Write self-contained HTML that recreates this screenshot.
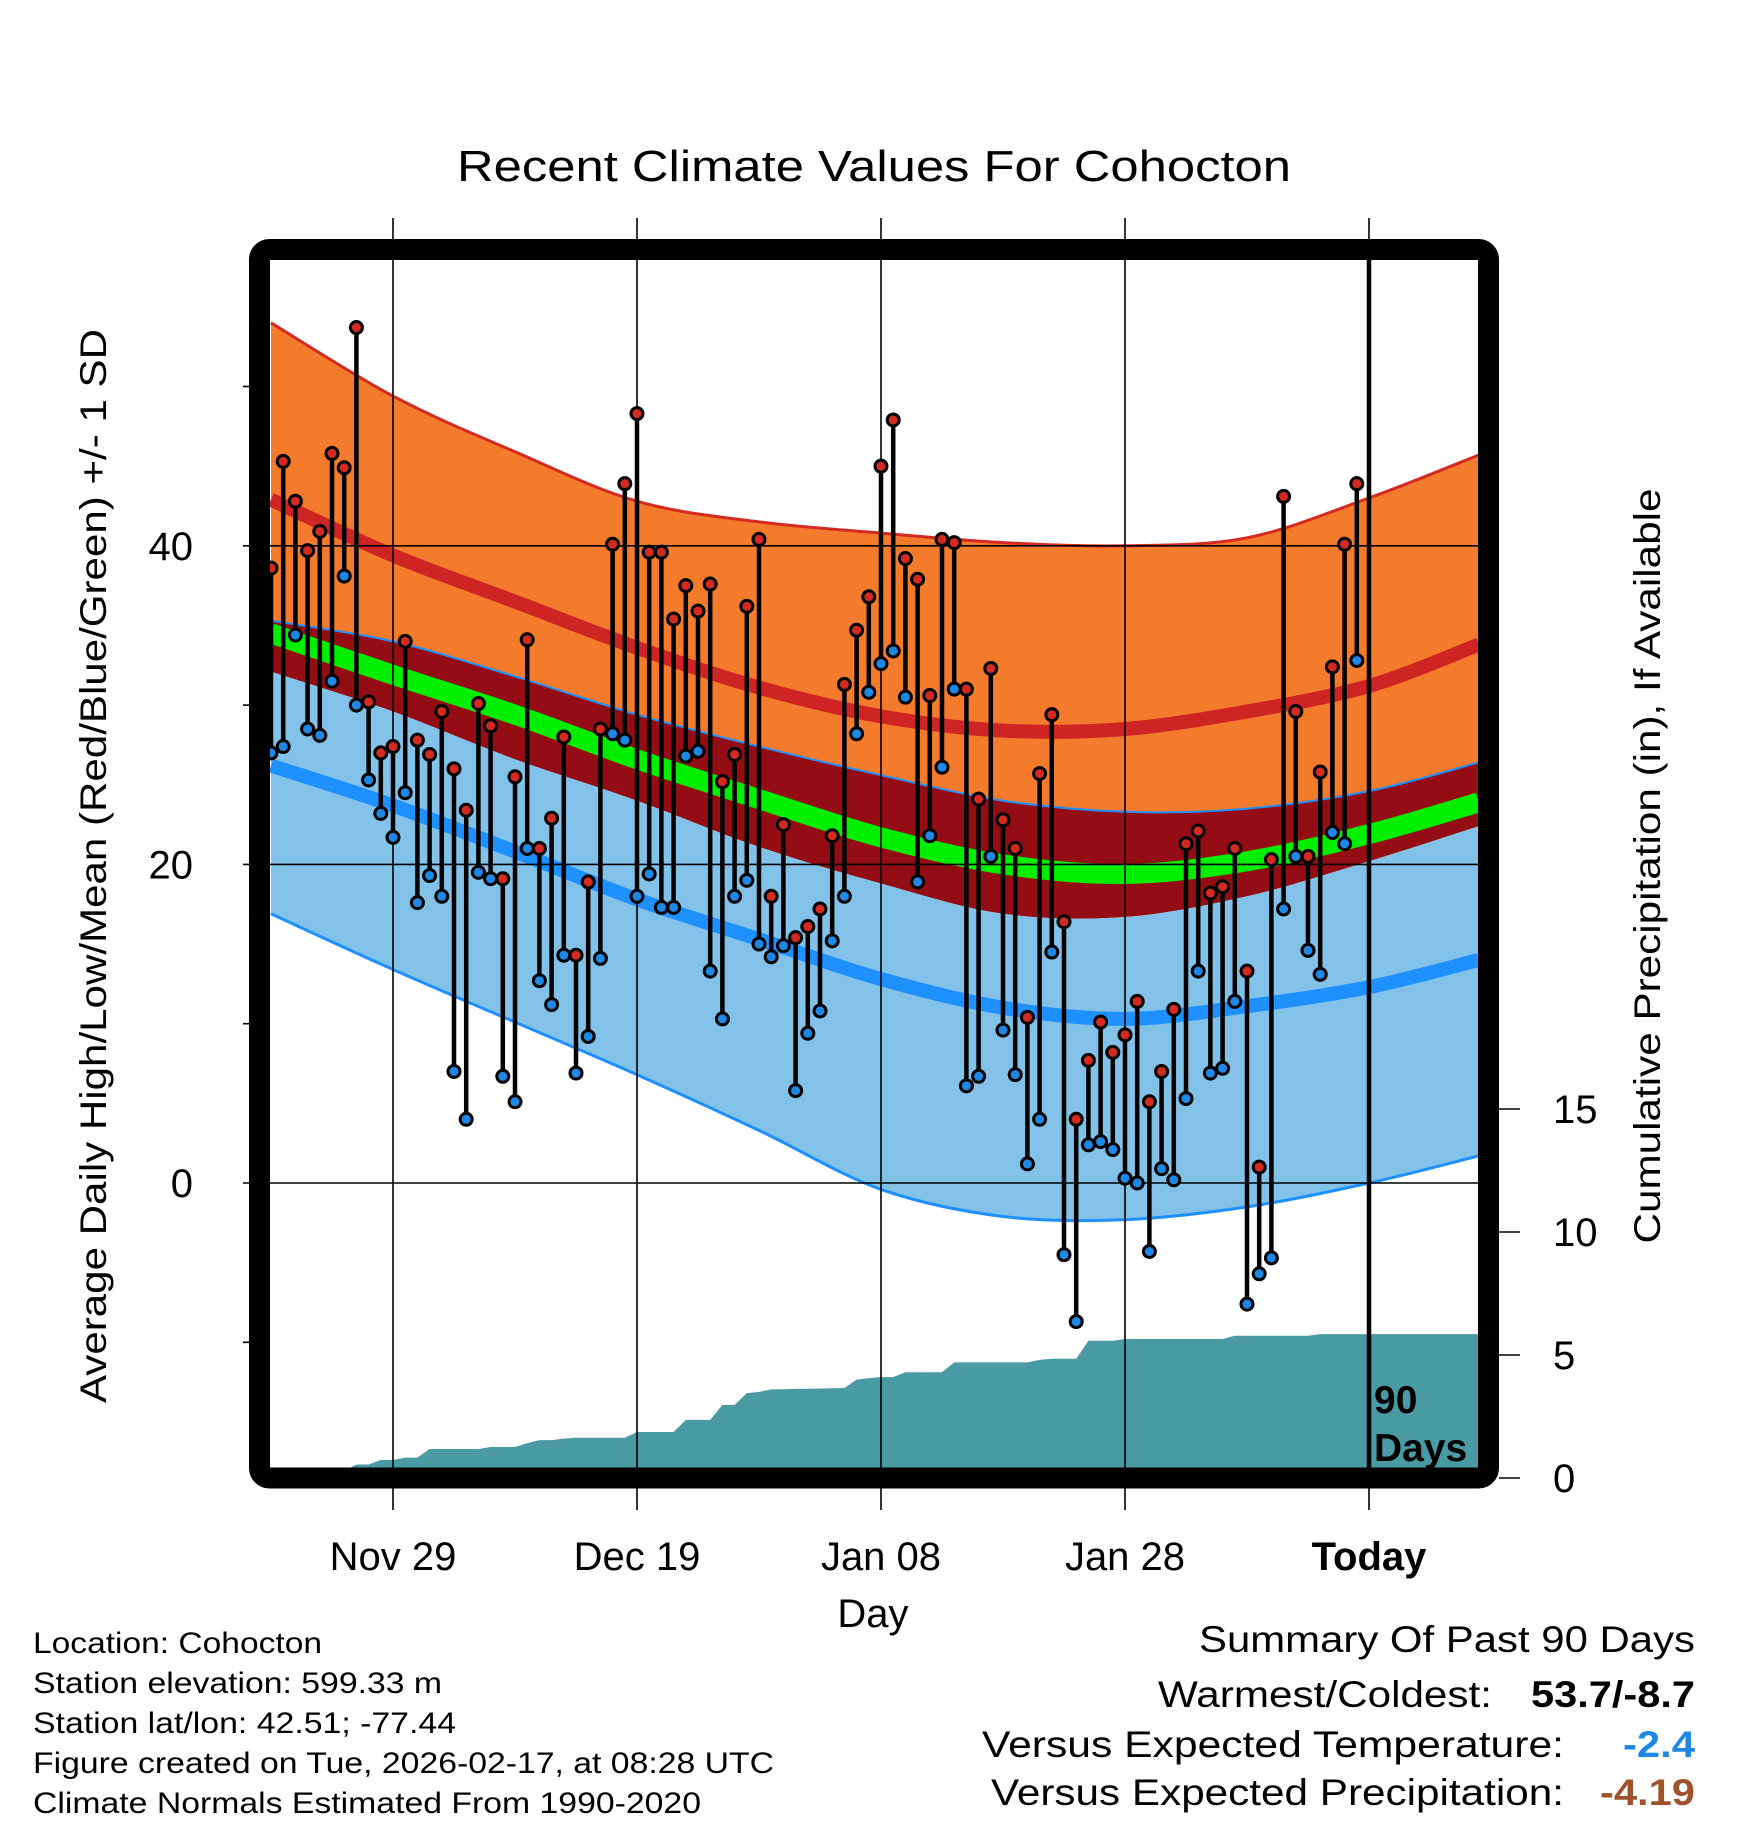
<!DOCTYPE html>
<html><head><meta charset="utf-8"><title>Recent Climate Values For Cohocton</title>
<style>html,body{margin:0;padding:0;background:#fff}svg{display:block}text{font-family:"Liberation Sans",Arial,sans-serif}</style>
</head><body>
<svg id="chart" width="1748" height="1828" viewBox="0 0 1748 1828" xmlns="http://www.w3.org/2000/svg">
<defs><clipPath id="plotclip"><rect x="270" y="260" width="1208" height="1208"/></clipPath></defs>
<rect width="1748" height="1828" fill="#fff"/>
<text x="874" y="181" font-size="44" text-anchor="middle" textLength="834" lengthAdjust="spacingAndGlyphs">Recent Climate Values For Cohocton</text>
<g id="bands" clip-path="url(#plotclip)"></g>
<g id="grid"></g>
<g id="marks" clip-path="url(#plotclip)"></g>
<g id="axes"></g>
<text transform="translate(106,866) rotate(-90)" font-size="37" text-anchor="middle" textLength="1074" lengthAdjust="spacingAndGlyphs">Average Daily High/Low/Mean (Red/Blue/Green) +/- 1 SD</text>
<text transform="translate(1660,866) rotate(-90)" font-size="37" text-anchor="middle" textLength="755" lengthAdjust="spacingAndGlyphs">Cumulative Precipitation (in), If Available</text>
<text x="873" y="1627" font-size="40" text-anchor="middle">Day</text>
<g font-size="30">
<text x="33" y="1653" textLength="289" lengthAdjust="spacingAndGlyphs">Location: Cohocton</text>
<text x="33" y="1693" textLength="409" lengthAdjust="spacingAndGlyphs">Station elevation: 599.33 m</text>
<text x="33" y="1733" textLength="423" lengthAdjust="spacingAndGlyphs">Station lat/lon: 42.51; -77.44</text>
<text x="33" y="1773" textLength="741" lengthAdjust="spacingAndGlyphs">Figure created on Tue, 2026-02-17, at 08:28 UTC</text>
<text x="33" y="1813" textLength="668" lengthAdjust="spacingAndGlyphs">Climate Normals Estimated From 1990-2020</text>
</g>
<g font-size="37">
<text x="1199" y="1652" textLength="496" lengthAdjust="spacingAndGlyphs">Summary Of Past 90 Days</text>
<text x="1158" y="1707" textLength="334" lengthAdjust="spacingAndGlyphs">Warmest/Coldest:</text>
<text x="1531" y="1707" font-weight="bold" textLength="164" lengthAdjust="spacingAndGlyphs">53.7/-8.7</text>
<text x="982" y="1757" textLength="582" lengthAdjust="spacingAndGlyphs">Versus Expected Temperature:</text>
<text x="1623" y="1757" font-weight="bold" fill="#1e88e5" textLength="72" lengthAdjust="spacingAndGlyphs">-2.4</text>
<text x="991" y="1805" textLength="573" lengthAdjust="spacingAndGlyphs">Versus Expected Precipitation:</text>
<text x="1600" y="1805" font-weight="bold" fill="#a0522d" textLength="95" lengthAdjust="spacingAndGlyphs">-4.19</text>
</g>
</svg>
<script>
// ---- data ----
const highs = [38.6,45.3,42.8,39.7,40.9,45.8,44.9,53.7,30.2,27.0,27.4,34.0,27.8,26.9,29.6,26.0,23.4,30.1,28.7,19.1,25.5,34.1,21.0,22.9,28.0,14.3,18.9,28.5,40.1,43.9,48.3,39.6,39.6,35.4,37.5,35.9,37.6,25.2,26.9,36.2,40.4,18.0,22.5,15.4,16.1,17.2,21.8,31.3,34.7,36.8,45.0,47.9,39.2,37.9,30.6,40.4,40.2,31.0,24.1,32.3,22.8,21.0,10.4,25.7,29.4,16.4,4.0,7.7,10.1,8.2,9.3,11.4,5.1,7.0,10.9,21.3,22.1,18.2,18.6,21.0,13.3,1.0,20.3,43.1,29.6,20.5,25.8,32.4,40.1,43.9];
const lows = [27.0,27.4,34.4,28.5,28.1,31.5,38.1,30.0,25.3,23.2,21.7,24.5,17.6,19.3,18.0,7.0,4.0,19.5,19.1,6.7,5.1,21.0,12.7,11.2,14.3,6.9,9.2,14.1,28.2,27.8,18.0,19.4,17.3,17.3,26.8,27.1,13.3,10.3,18.0,19.0,15.0,14.2,14.9,5.8,9.4,10.8,15.2,18.0,28.2,30.8,32.6,33.4,30.5,18.9,21.8,26.1,31.0,6.1,6.7,20.5,9.6,6.8,1.2,4.0,14.5,-4.5,-8.7,2.4,2.6,2.1,0.3,0.0,-4.3,0.9,0.2,5.3,13.3,6.9,7.2,11.4,-7.6,-5.7,-4.7,17.2,20.5,14.6,13.1,22.0,21.3,32.8];
const precipCum = [0,0,0,0,0,0,0.3,0.55,0.55,0.73,0.73,0.83,0.83,1.18,1.18,1.18,1.18,1.18,1.26,1.26,1.26,1.42,1.54,1.54,1.6,1.64,1.64,1.64,1.64,1.64,1.87,1.87,1.87,1.87,2.36,2.36,2.36,2.97,2.97,3.45,3.5,3.6,3.61,3.62,3.63,3.64,3.65,3.66,4.0,4.06,4.1,4.1,4.3,4.3,4.3,4.3,4.7,4.7,4.7,4.7,4.7,4.7,4.7,4.8,4.85,4.85,4.85,5.58,5.58,5.58,5.65,5.65,5.65,5.65,5.65,5.65,5.65,5.65,5.65,5.78,5.78,5.78,5.78,5.78,5.78,5.78,5.85,5.85,5.85,5.85];
const normDays = [-10,0,10,20,30,40,50,60,70,80,89];
const normHighPlusSD = [54.0,49.4,45.9,42.8,41.5,40.8,40.2,40.0,40.5,43.0,45.7];
const normHigh = [42.9,39.4,36.5,33.6,31.1,29.3,28.4,28.5,29.6,31.2,33.8];
const normHighMinusSD = [35.3,34.0,31.8,29.4,27.4,25.6,24.0,23.3,23.5,24.6,26.4];
const normMean = [34.5,31.9,29.4,26.6,24.1,21.7,20.0,19.4,20.2,21.9,23.9];
const normLowPlusSD = [32.1,29.6,26.6,24.0,21.1,18.8,16.9,16.7,18.0,20.2,22.4];
const normLow = [26.2,23.7,20.8,17.8,15.3,12.8,11.0,10.3,11.1,12.3,14.0];
const normLowMinusSD = [16.9,13.4,10.1,6.8,3.3,-0.4,-2.1,-2.3,-1.5,0.0,1.7];
const xTickDays = [0,20,40,60,80];
const xTickLabels = ["Nov 29","Dec 19","Jan 08","Jan 28","Today"];
const yMajor = [0,20,40];
const yMinor = [-10,10,30,50];
const pTicks = [0,5,10,15];
const firstDay = -10;

// ---- scales ----
const X = d => 393 + 12.2*d;
const Y = t => 1183 - 15.93*t;
const P = p => 1478 - 24.6*p;
const NS = "http://www.w3.org/2000/svg";
function mk(tag, attrs, parent){const e=document.createElementNS(NS,tag);for(const k in attrs)e.setAttribute(k,attrs[k]);parent.appendChild(e);return e;}
function pts(vals){return normDays.map((d,i)=>[X(d),Y(vals[i])]);}
function smooth(p){let s="";for(let i=0;i<p.length-1;i++){const p0=p[Math.max(0,i-1)],p1=p[i],p2=p[i+1],p3=p[Math.min(p.length-1,i+2)];
 const c1=[p1[0]+(p2[0]-p0[0])/6,p1[1]+(p2[1]-p0[1])/6],c2=[p2[0]-(p3[0]-p1[0])/6,p2[1]-(p3[1]-p1[1])/6];
 s+=(i?"":"M"+p1[0].toFixed(1)+","+p1[1].toFixed(1))+" C"+c1[0].toFixed(1)+","+c1[1].toFixed(1)+" "+c2[0].toFixed(1)+","+c2[1].toFixed(1)+" "+p2[0].toFixed(1)+","+p2[1].toFixed(1);}return s;}
function bandPath(a,b){const pa=pts(a),pb=pts(b).reverse();let s=smooth(pa);const r=smooth(pb);s+=" L"+r.slice(1);return s+" Z";}

const bands=document.getElementById('bands');
let e;
e=mk('path',{d:bandPath(normHighPlusSD,normHighMinusSD),fill:'#f47a2c'},bands);


e=mk('path',{d:bandPath(normHighMinusSD,normLowPlusSD),fill:'#940d14'},bands);


e=mk('path',{d:bandPath(normLowPlusSD,normLowMinusSD),fill:'#82c1e8'},bands);


const lineSpecs=[[normHighPlusSD,'#d42a22',3,'high-plus-sd-line'],[normHigh,'#cf2424',14,'normal-high-line'],[normHighMinusSD,'#1e90ff',2,'high-minus-sd-line'],[normMean,'#00ee00',20,'normal-mean-line'],[normLow,'#1e90ff',14,'normal-low-line'],[normLowMinusSD,'#1e90ff',3,'low-minus-sd-line']];
lineSpecs.forEach(s=>{const l=mk('path',{d:smooth(pts(s[0])),fill:'none',stroke:s[1],'stroke-width':s[2]},bands);

});
// precip area
let pd="M"+X(firstDay)+","+P(0);
precipCum.forEach((v,i)=>{pd+=" L"+X(firstDay+i).toFixed(1)+","+P(v).toFixed(1);});
pd+=" L1480,"+P(precipCum[precipCum.length-1]).toFixed(1)+" L1480,"+P(0)+" Z";
e=mk('path',{d:pd,fill:'#4a9aa3'},bands);



// grid
const grid=document.getElementById('grid');
yMajor.forEach(t=>{const g=mk('line',{x1:243,x2:1478,y1:Y(t),y2:Y(t),stroke:'#000','stroke-width':1.6},grid);

});
yMinor.forEach(t=>{const g=mk('line',{x1:243,x2:252,y1:Y(t),y2:Y(t),stroke:'#000','stroke-width':1.6},grid);

});
xTickDays.forEach((d,i)=>{const today=i===xTickDays.length-1;
const g=mk('line',{x1:X(d),x2:X(d),y1:218,y2:1510,stroke:'#000','stroke-width':1.6},grid);


if(today){const t=mk('line',{x1:X(d),x2:X(d),y1:255,y2:1472,stroke:'#000','stroke-width':4.5},grid);

}});

// marks
const marks=document.getElementById('marks');
highs.forEach((h,i)=>{const x=X(firstDay+i);const st=mk('line',{x1:x,x2:x,y1:Y(h),y2:Y(lows[i]),stroke:'#000','stroke-width':4.5},marks);

});
highs.forEach((h,i)=>{const x=X(firstDay+i);
const lo=mk('circle',{cx:x,cy:Y(lows[i]),r:6,fill:'#1e88e5',stroke:'#000','stroke-width':3},marks);


const hi=mk('circle',{cx:x,cy:Y(h),r:6,fill:'#d42a22',stroke:'#000','stroke-width':3},marks);

});

// axes
const axes=document.getElementById('axes');
e=mk('rect',{x:259.5,y:249.5,width:1229,height:1228.5,rx:10,fill:'none',stroke:'#000','stroke-width':21},axes);


const t90=mk('text',{x:1374,y:1413,'font-size':39,'font-weight':'bold'},axes);t90.textContent="90";


const tdays=mk('text',{x:1374,y:1461,'font-size':39,'font-weight':'bold'},axes);tdays.textContent="Days";


yMajor.forEach(t=>{const l=mk('text',{x:193,y:Y(t)+14,'font-size':40,'text-anchor':'end'},axes);l.textContent=String(t);

});
xTickDays.forEach((d,i)=>{const l=mk('text',{x:X(d),y:1570,'font-size':40,'text-anchor':'middle','font-weight':i===xTickDays.length-1?'bold':'normal'},axes);l.textContent=xTickLabels[i];

});
pTicks.forEach(p=>{const tk=mk('line',{x1:1499,x2:1520,y1:P(p),y2:P(p),stroke:'#000','stroke-width':1.6},axes);


const l=mk('text',{x:1553,y:P(p)+14,'font-size':40},axes);l.textContent=String(p);

});
</script>
</body></html>
